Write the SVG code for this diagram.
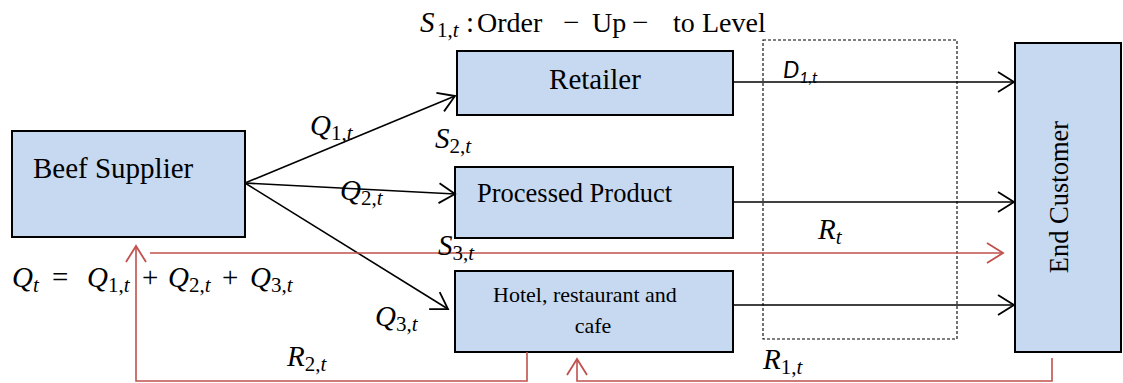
<svg xmlns="http://www.w3.org/2000/svg" width="1123" height="383" viewBox="0 0 1123 383">
  <style>
    .box { fill: #C6D9F1; stroke: #000; stroke-width: 2; }
    .lbl { font-family: "Liberation Serif", "Times New Roman", Times, "DejaVu Serif", serif; fill: #000; }
    .m { font-family: "Liberation Serif", "Times New Roman", Times, "DejaVu Serif", serif; font-size: 29px; fill: #000; }
    .v { font-style: italic; }
    .s { font-size: 21px; }
    .d { font-family: Lato, "Liberation Sans", sans-serif; font-style: italic; fill: #000; }
    .flow { fill: none; stroke: #000; stroke-width: 1.6; }
    .ret { fill: none; stroke: #C0504D; stroke-width: 1.6; }
  </style>
  <defs>
    <marker id="ah" markerUnits="userSpaceOnUse" markerWidth="20" markerHeight="24" viewBox="-18 -12 20 24" refX="0" refY="0" orient="auto">
      <path d="M-16,-10 L0,0 L-16,10" fill="none" stroke="#000" stroke-width="1.8"/>
    </marker>
    <marker id="ahr" markerUnits="userSpaceOnUse" markerWidth="20" markerHeight="24" viewBox="-18 -12 20 24" refX="0" refY="0" orient="auto">
      <path d="M-16,-10 L0,0 L-16,10" fill="none" stroke="#C0504D" stroke-width="1.8"/>
    </marker>
  </defs>

  <!-- heading: order-up-to level of the retailer -->
  <text class="m" y="32"><tspan x="420" class="v">S</tspan><tspan x="437" class="s" dy="5">1,<tspan class="v">t</tspan></tspan><tspan x="466" dy="-5">:</tspan><tspan x="477" font-size="28">Order</tspan><tspan x="563">−</tspan><tspan x="592" font-size="28">Up</tspan><tspan x="632">−</tspan><tspan x="673" font-size="28">to</tspan><tspan x="702" font-size="28">Level</tspan></text>

  <!-- nodes -->
  <g id="beef-supplier">
    <rect class="box" x="12" y="131" width="233" height="106"/>
    <text class="lbl" x="33" y="178" font-size="29">Beef Supplier</text>
  </g>
  <g id="retailer">
    <rect class="box" x="457" y="51" width="276" height="64"/>
    <text class="lbl" x="595" y="89" font-size="29" text-anchor="middle">Retailer</text>
  </g>
  <g id="processed-product">
    <rect class="box" x="455" y="167" width="278" height="71"/>
    <text class="lbl" x="477" y="202" font-size="26.5">Processed Product</text>
  </g>
  <g id="hotel-restaurant-cafe">
    <rect class="box" x="455" y="271" width="278" height="81"/>
    <text class="lbl" font-size="22"><tspan x="493" y="302">Hotel, restaurant and</tspan><tspan x="593" y="333" text-anchor="middle">cafe</tspan></text>
  </g>
  <g id="end-customer">
    <rect class="box" x="1015" y="43" width="106" height="309"/>
    <text class="lbl" font-size="26.5" text-anchor="middle" transform="translate(1068,197) rotate(-90)">End Customer</text>
  </g>

  <!-- window of customer demand -->
  <rect x="763" y="40" width="194" height="299" fill="none" stroke="#000" stroke-width="1.1" stroke-dasharray="3,2"/>

  <!-- connectors -->
  <g id="connectors">
    <line class="flow" x1="245" y1="183" x2="455" y2="96" marker-end="url(#ah)"/>
    <line class="flow" x1="245" y1="183" x2="455" y2="194" marker-end="url(#ah)"/>
    <line class="flow" x1="245" y1="183" x2="448" y2="309" marker-end="url(#ah)"/>
    <line class="flow" x1="733" y1="82" x2="1014" y2="82" marker-end="url(#ah)"/>
    <line class="flow" x1="733" y1="202" x2="1014" y2="202" marker-end="url(#ah)"/>
    <line class="flow" x1="733" y1="305" x2="1014" y2="305" marker-end="url(#ah)"/>
    <line class="ret" x1="150" y1="253" x2="1003" y2="253" marker-end="url(#ahr)"/>
    <polyline class="ret" points="527,352 527,381 136,381 136,246" marker-end="url(#ahr)"/>
    <polyline class="ret" points="1052,358 1052,381 577,381 577,359" marker-end="url(#ahr)"/>
  </g>

  <!-- flow labels -->
  <text class="m" x="310" y="135"><tspan class="v">Q</tspan><tspan class="s" dy="5">1,<tspan class="v">t</tspan></tspan></text>
  <text class="m" x="340" y="200"><tspan class="v">Q</tspan><tspan class="s" dy="5">2,<tspan class="v">t</tspan></tspan></text>
  <text class="m" x="375" y="326"><tspan class="v">Q</tspan><tspan class="s" dy="5">3,<tspan class="v">t</tspan></tspan></text>
  <text class="m" x="435" y="148"><tspan class="v">S</tspan><tspan class="s" dy="5">2,<tspan class="v">t</tspan></tspan></text>
  <text class="m" x="438" y="255"><tspan class="v">S</tspan><tspan class="s" dy="5">3,<tspan class="v">t</tspan></tspan></text>
  <text class="d" x="783" y="78" font-size="23">D<tspan font-size="16" dy="5">1,t</tspan></text>
  <text class="m" x="818" y="239"><tspan class="v">R</tspan><tspan class="s v" dy="5">t</tspan></text>
  <text class="m" x="763" y="369"><tspan class="v">R</tspan><tspan class="s" dy="5">1,<tspan class="v">t</tspan></tspan></text>
  <text class="m" x="287" y="366"><tspan class="v">R</tspan><tspan class="s" dy="5">2,<tspan class="v">t</tspan></tspan></text>

  <!-- total order quantity -->
  <text class="m" y="287"><tspan x="12" class="v">Q</tspan><tspan class="s v" dy="5">t</tspan><tspan x="52" dy="-5">=</tspan><tspan x="87" class="v">Q</tspan><tspan class="s" dy="5">1,<tspan class="v">t</tspan></tspan><tspan x="142" dy="-5">+</tspan><tspan x="168" class="v">Q</tspan><tspan class="s" dy="5">2,<tspan class="v">t</tspan></tspan><tspan x="222" dy="-5">+</tspan><tspan x="250" class="v">Q</tspan><tspan class="s" dy="5">3,<tspan class="v">t</tspan></tspan></text>
</svg>
